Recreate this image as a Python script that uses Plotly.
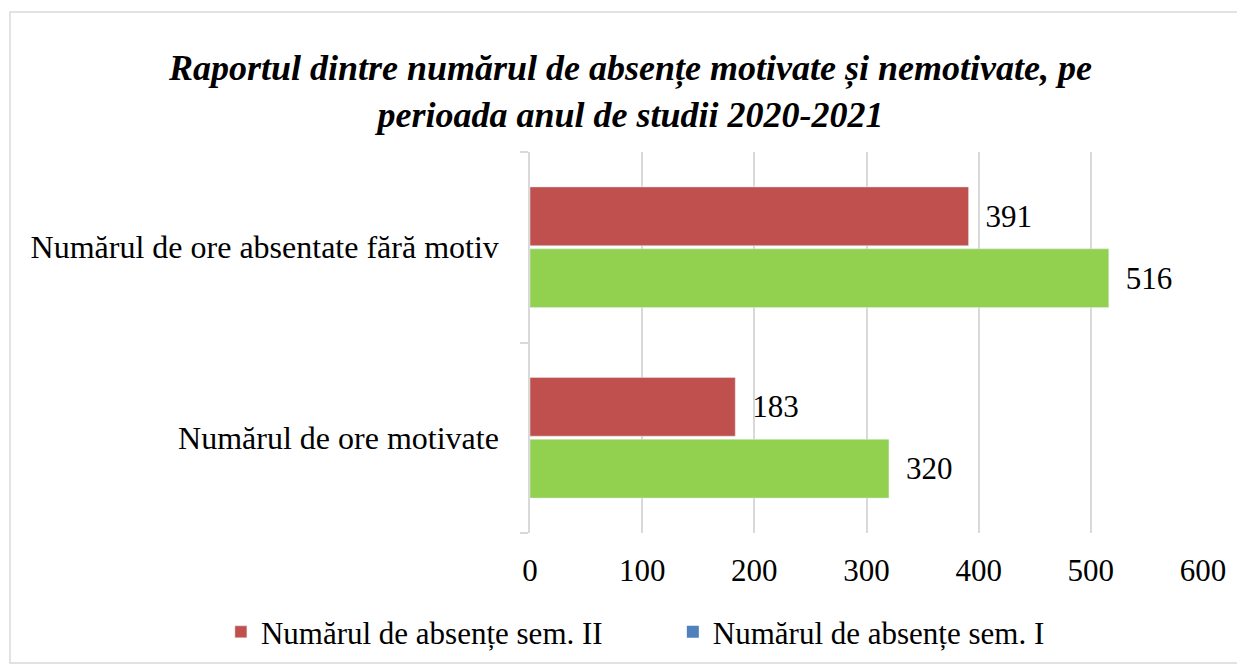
import plotly.graph_objects as go

categories = ['Numărul de ore motivate', 'Numărul de ore absentate fără motiv']
sem1 = [320, 516]
sem2 = [183, 391]
x_ticks = [0, 100, 200, 300, 400, 500, 600]

colors = {'sem1': '#92D050', 'sem2': '#C0504D', 'sem1_legend': '#4F81BD', 'grid': '#D9D9D9'}
font_family = 'Liberation Serif, Times New Roman, serif'
label_tpl = '\u00a0\u2009%{x}'

fig = go.Figure()
# green bars go first so they sit below the red ones in each group
fig.add_bar(name='Numărul de absențe sem. I', y=categories, x=sem1, orientation='h',
            marker_color=colors['sem1'], showlegend=False,
            text=sem1, texttemplate=label_tpl, textposition='outside',
            textfont=dict(size=31, color='black', family=font_family), cliponaxis=False)
fig.add_bar(name='Numărul de absențe sem. II', y=categories, x=sem2, orientation='h',
            marker_color=colors['sem2'], legend='legend',
            text=sem2, texttemplate=label_tpl, textposition='outside',
            textfont=dict(size=31, color='black', family=font_family), cliponaxis=False)
# legend entry for sem. I uses the blue swatch, as in the source chart
fig.add_scatter(name='Numărul de absențe sem. I', x=[None], y=[categories[0]], mode='markers',
                marker=dict(symbol='square', size=12, color=colors['sem1_legend']),
                legend='legend2', hoverinfo='skip')

legend_style = dict(orientation='h', xref='container', xanchor='left',
                    yref='container', y=0.060, yanchor='middle',
                    font=dict(size=31, family=font_family), bgcolor='rgba(0,0,0,0)')

fig.update_layout(
    width=1245, height=664,
    margin=dict(l=522, r=50, t=144, b=139, autoexpand=False),
    paper_bgcolor='white', plot_bgcolor='white',
    barmode='group', bargap=0.35, bargroupgap=0.05,
    font=dict(family=font_family, size=31, color='black'),
    title=dict(text='Raportul dintre numărul de absențe motivate și nemotivate, pe<br>perioada anul de studii 2020-2021',
               x=0.5, xref='container', xanchor='center', y=0.892, yref='container', yanchor='middle',
               font=dict(family=font_family, size=36, color='black', weight='bold', style='italic')),
    legend=dict(x=0.171, **legend_style),
    legend2=dict(x=0.534, **legend_style),
    showlegend=True,
    shapes=[dict(type='rect', xref='paper', yref='paper', x0=-0.7727, x1=1.0609, y0=-0.341, y1=1.3675,
                 line=dict(color=colors['grid'], width=1.5), layer='below')],
)
fig.update_xaxes(range=[0, 600], tickvals=x_ticks, showgrid=True, gridcolor=colors['grid'], gridwidth=1.5,
                 zeroline=False, showline=False, ticks='', ticklabelstandoff=16, automargin=False,
                 tickfont=dict(size=31, family=font_family))
fig.update_yaxes(type='category', showline=True, linecolor=colors['grid'], linewidth=1.5,
                 ticks='outside', tickson='boundaries', ticklen=8, tickcolor=colors['grid'], tickwidth=1.5,
                 showgrid=False, ticklabelstandoff=23, automargin=False,
                 tickfont=dict(size=32, family=font_family))

fig.write_html('out.html')
